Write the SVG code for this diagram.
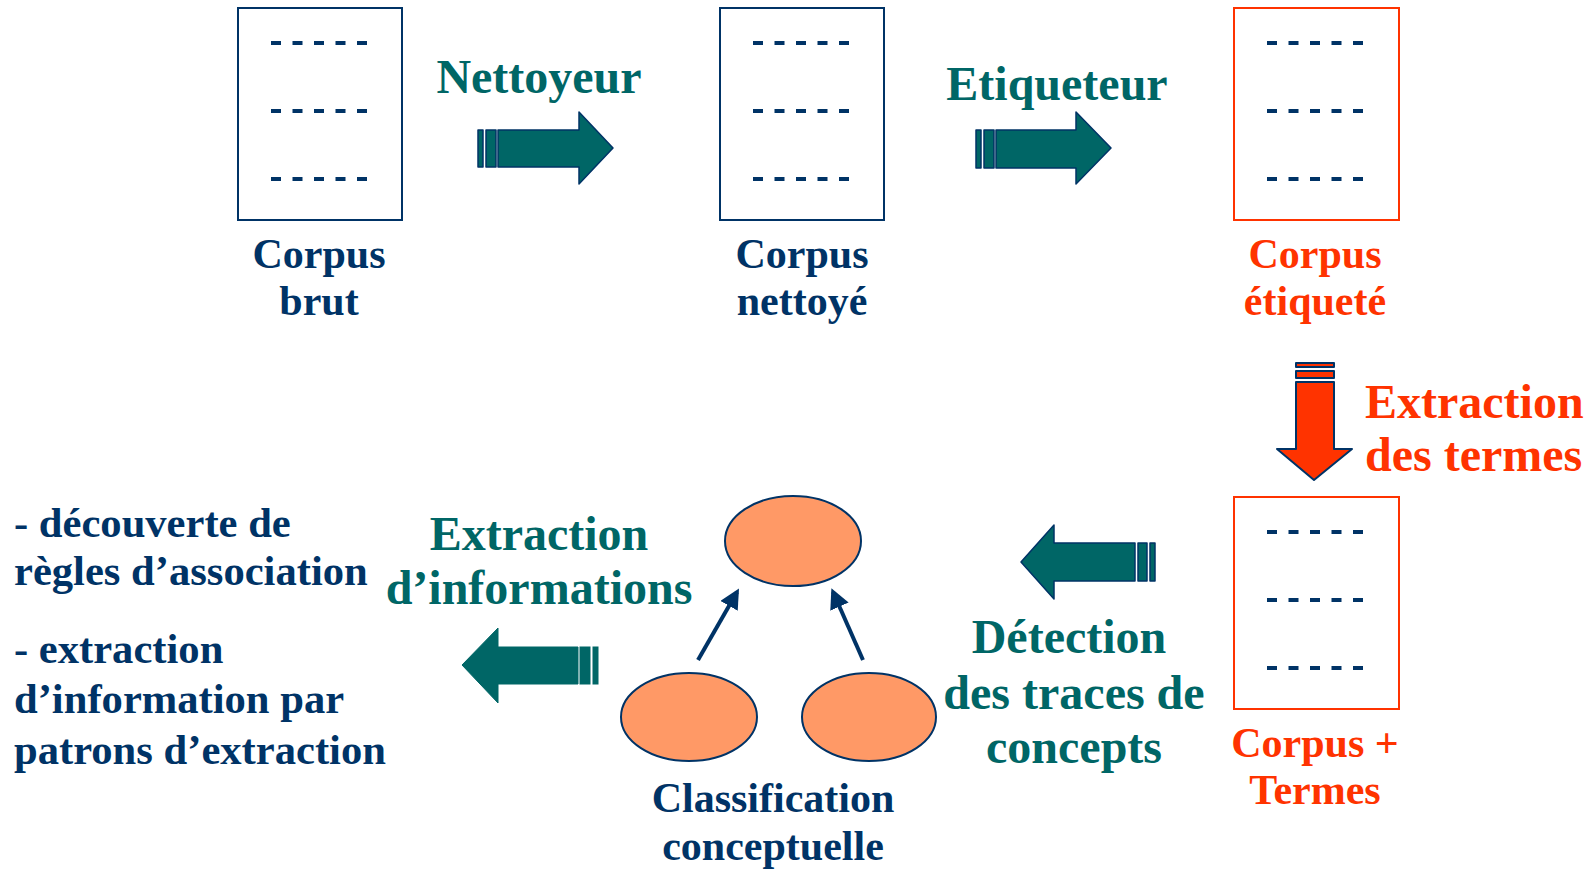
<svg xmlns="http://www.w3.org/2000/svg" width="1595" height="869" viewBox="0 0 1595 869">
<defs>
<style>
text{font-family:"Liberation Serif","Times New Roman",serif;font-weight:bold}
.lbl{font-size:42px}
.res{font-size:42.6px}
.big{font-size:48px}
.navy{fill:#003366}
.teal{fill:#006666}
.red{fill:#FF3300}
.doc{fill:#fff;stroke:#003366;stroke-width:2}
.docr{fill:#fff;stroke:#FF3300;stroke-width:2}
.dash{stroke:#003366;stroke-width:4;stroke-dasharray:10 11.5;fill:none}
.arr{fill:#006666;stroke:#003366;stroke-width:1.5;stroke-linejoin:round}
.arr2{fill:#006666;stroke:#006666;stroke-width:1}
.arrr{fill:#FF3300;stroke:#003366;stroke-width:2;stroke-linejoin:round}
.ell{fill:#FF9966;stroke:#003366;stroke-width:2}
.con{stroke:#003366;stroke-width:4;fill:none}
</style>
<marker id="ah" markerWidth="5" markerHeight="5" refX="4" refY="2.5" orient="auto" markerUnits="strokeWidth">
<path d="M0,0 L5,2.5 L0,5 Z" fill="#003366"/>
</marker>
</defs>
<rect width="1595" height="869" fill="#fff"/>

<g id="corpus-brut">
<rect class="doc" x="238" y="8" width="164" height="212"/>
<path class="dash" d="M271,43H369M271,111H369M271,179H369"/>
<text class="lbl navy" text-anchor="middle" x="319" y="268">Corpus</text>
<text class="lbl navy" text-anchor="middle" x="319" y="315">brut</text>
</g>

<g id="corpus-nettoye">
<rect class="doc" x="720" y="8" width="164" height="212"/>
<path class="dash" d="M753,43H851M753,111H851M753,179H851"/>
<text class="lbl navy" text-anchor="middle" x="802" y="268">Corpus</text>
<text class="lbl navy" text-anchor="middle" x="802" y="315">nettoyé</text>
</g>

<g id="corpus-etiquete">
<rect class="docr" x="1234" y="8" width="165" height="212"/>
<path class="dash" d="M1267,43H1365M1267,111H1365M1267,179H1365"/>
<text class="lbl red" text-anchor="middle" x="1315" y="268">Corpus</text>
<text class="lbl red" text-anchor="middle" x="1315" y="315">étiqueté</text>
</g>

<g id="corpus-termes">
<rect class="docr" x="1234" y="497" width="165" height="212"/>
<path class="dash" d="M1267,532H1365M1267,600H1365M1267,668H1365"/>
<text class="lbl red" text-anchor="middle" x="1315" y="757">Corpus +</text>
<text class="lbl red" text-anchor="middle" x="1315" y="804">Termes</text>
</g>

<g id="classification">
<ellipse class="ell" cx="793" cy="541" rx="68" ry="45"/>
<ellipse class="ell" cx="689" cy="717" rx="68" ry="44"/>
<ellipse class="ell" cx="869" cy="717" rx="67" ry="44"/>
<text class="lbl navy" text-anchor="middle" x="773" y="812">Classification</text>
<text class="lbl navy" text-anchor="middle" x="773" y="860">conceptuelle</text>
</g>

<g id="results">
<text class="res navy" x="14" y="537">- découverte de</text>
<text class="res navy" x="14" y="585">règles d’association</text>
<text class="res navy" x="14" y="663">- extraction</text>
<text class="res navy" x="14" y="713">d’information par</text>
<text class="res navy" x="14" y="764">patrons d’extraction</text>
</g>

<g id="connectors">
<g id="nettoyeur">
<rect class="arr" x="478" y="130" width="5" height="37"/>
<rect class="arr" x="486" y="130" width="10" height="37"/>
<path class="arr" d="M498,130H579V112L613,148L579,184V167H498Z"/>
<text class="big teal" text-anchor="middle" x="539" y="93">Nettoyeur</text>
</g>
<g id="etiqueteur">
<rect class="arr" x="976" y="130" width="5" height="38"/>
<rect class="arr" x="984" y="130" width="10" height="38"/>
<path class="arr" d="M996,130H1076V112L1111,148L1076,184V168H996Z"/>
<text class="big teal" text-anchor="middle" x="1057" y="100">Etiqueteur</text>
</g>
<g id="extraction-termes">
<rect class="arrr" x="1296" y="363" width="38" height="4"/>
<rect class="arrr" x="1296" y="371" width="38" height="7"/>
<path class="arrr" d="M1296,382H1334V449H1352L1314,480L1277,449H1296Z"/>
<text class="big red" x="1365" y="418">Extraction</text>
<text class="big red" x="1365" y="471">des termes</text>
</g>
<g id="detection">
<rect class="arr" x="1150" y="543" width="5" height="38"/>
<rect class="arr" x="1138" y="543" width="9" height="38"/>
<path class="arr" d="M1135,543H1054V525L1021,562L1054,599V581H1135Z"/>
<text class="big teal" text-anchor="middle" x="1069" y="653">Détection</text>
<text class="big teal" text-anchor="middle" x="1074" y="709">des traces de</text>
<text class="big teal" text-anchor="middle" x="1074" y="763">concepts</text>
</g>
<g id="extraction-info">
<rect class="arr2" x="593" y="647" width="5" height="37"/>
<rect class="arr2" x="580" y="647" width="10" height="37"/>
<path class="arr2" d="M578,647H498V628L462,665L498,703V684H578Z"/>
<text class="big teal" text-anchor="middle" x="539" y="550">Extraction</text>
<text class="big teal" text-anchor="middle" x="539" y="604">d’informations</text>
</g>
<line class="con" x1="698" y1="660" x2="737" y2="592" marker-end="url(#ah)"/>
<line class="con" x1="863" y1="660" x2="833" y2="592" marker-end="url(#ah)"/>
</g>
</svg>
